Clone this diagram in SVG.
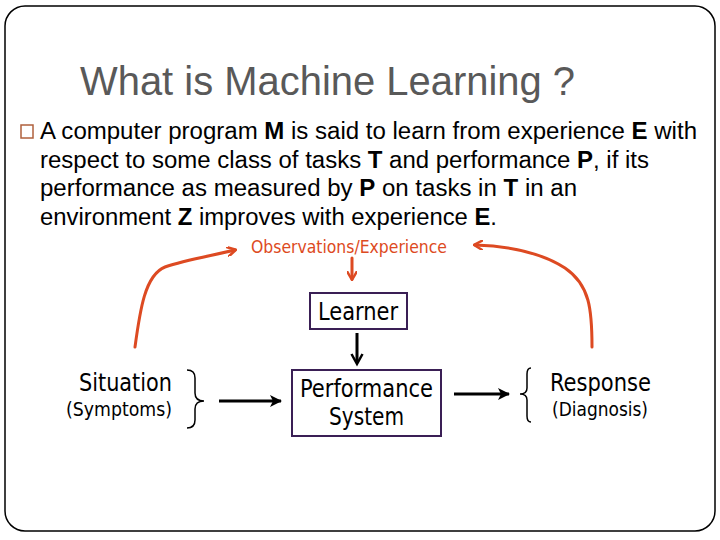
<svg xmlns="http://www.w3.org/2000/svg" width="720" height="540" viewBox="0 0 720 540">
<style>
.body{font-family:"Liberation Sans",Arial,sans-serif;font-size:23px;fill:#000}
.b{font-weight:bold}
.d{font-family:"DejaVu Sans Condensed","DejaVu Sans",sans-serif;fill:#000}
.box{fill:#fff;stroke:#3a1f55;stroke-width:2}
.or{fill:none;stroke:#dd4a22;stroke-width:3;stroke-linecap:round}
.bk{fill:none;stroke:#000;stroke-width:3}
.br{fill:none;stroke:#000;stroke-width:1.5}
</style>
<defs>
<marker id="ah" markerWidth="14" markerHeight="14" refX="10" refY="7" orient="auto" markerUnits="userSpaceOnUse">
<path d="M1,1.5 L11,7 L1,12.5" fill="none" stroke="#000" stroke-width="2.5" stroke-linejoin="miter"/>
</marker>
<marker id="ao" markerWidth="10" markerHeight="10" refX="8" refY="5" orient="auto" markerUnits="userSpaceOnUse">
<path d="M1,0.5 L9,5 L1,9.5" fill="none" stroke="#dd4a22" stroke-width="2.5" stroke-linejoin="round" stroke-linecap="round"/>
</marker>
<marker id="abk" markerWidth="14" markerHeight="14" refX="11" refY="7" orient="auto" markerUnits="userSpaceOnUse">
<path d="M0,1 L12,7 L0,13 L3,7 Z" fill="#000"/>
</marker>
</defs>
<rect x="5" y="6" width="710" height="525" rx="20" fill="#fff" stroke="#000" stroke-width="1.5"/>
<g id="title">
<text x="80" y="95" font-family="Liberation Sans,Arial,sans-serif" font-size="40" fill="#595959" textLength="495" lengthAdjust="spacingAndGlyphs">What is Machine Learning ?</text>
</g>
<g id="bullet">
<rect x="21" y="125" width="12" height="13" fill="none" stroke="#b0603c" stroke-width="1.5"/>
<text class="body" x="40" y="139" textLength="657" lengthAdjust="spacingAndGlyphs">A computer program <tspan class="b">M</tspan> is said to learn from experience <tspan class="b">E</tspan> with</text>
<text class="body" x="40" y="168" textLength="609" lengthAdjust="spacingAndGlyphs">respect to some class of tasks <tspan class="b">T</tspan> and performance <tspan class="b">P</tspan>, if its</text>
<text class="body" x="40" y="196" textLength="537" lengthAdjust="spacingAndGlyphs">performance as measured by <tspan class="b">P</tspan> on tasks in <tspan class="b">T</tspan> in an</text>
<text class="body" x="40" y="225" textLength="457" lengthAdjust="spacingAndGlyphs">environment <tspan class="b">Z</tspan> improves with experience <tspan class="b">E</tspan>.</text>
</g>
<g id="observations">
<text x="251" y="253" font-family="DejaVu Sans Condensed,DejaVu Sans,sans-serif" font-size="18" fill="#dd4a22" textLength="196" lengthAdjust="spacingAndGlyphs">Observations/Experience</text>
</g>
<g id="learner">
<rect class="box" x="310" y="293" width="97" height="36"/>
<text class="d" x="318" y="320" font-size="24" textLength="80" lengthAdjust="spacingAndGlyphs">Learner</text>
</g>
<g id="performance">
<rect class="box" x="292" y="370" width="149" height="66"/>
<text class="d" x="300" y="397" font-size="24" textLength="133" lengthAdjust="spacingAndGlyphs">Performance</text>
<text class="d" x="329" y="425" font-size="24" textLength="75" lengthAdjust="spacingAndGlyphs">System</text>
</g>
<g id="situation">
<text class="d" x="79" y="391" font-size="24" textLength="93" lengthAdjust="spacingAndGlyphs">Situation</text>
<text class="d" x="66" y="416" font-size="19" textLength="106" lengthAdjust="spacingAndGlyphs">(Symptoms)</text>
<path class="br" d="M187,370 Q195,370 195,378 L195,393 Q195,401 204,401 Q195,401 195,409 L195,420 Q195,428 187,428"/>
</g>
<g id="response">
<text class="d" x="550" y="391" font-size="24" textLength="101" lengthAdjust="spacingAndGlyphs">Response</text>
<text class="d" x="552" y="416" font-size="19" textLength="96" lengthAdjust="spacingAndGlyphs">(Diagnosis)</text>
<path class="br" d="M531,368 Q527,368 527,374 L527,388 Q527,394 520,394 Q527,394 527,400 L527,416 Q527,422 531,422"/>
</g>
<g id="connectors">
<path class="or" d="M135,347 C140,310 145,275 165,267 C185,260 210,256 235,250" marker-end="url(#ao)"/>
<path class="or" d="M592,347 C592,310 590,285 565,268 C540,252 510,246 475,245" marker-end="url(#ao)"/>
<path class="or" d="M352,258 L352,279" marker-end="url(#ao)"/>
<path class="bk" d="M357,333 L357,363" marker-end="url(#ah)"/>
<path class="bk" d="M219,401 L281,401" marker-end="url(#abk)"/>
<path class="bk" d="M454,394 L509,394" marker-end="url(#abk)"/>
</g>
</svg>
